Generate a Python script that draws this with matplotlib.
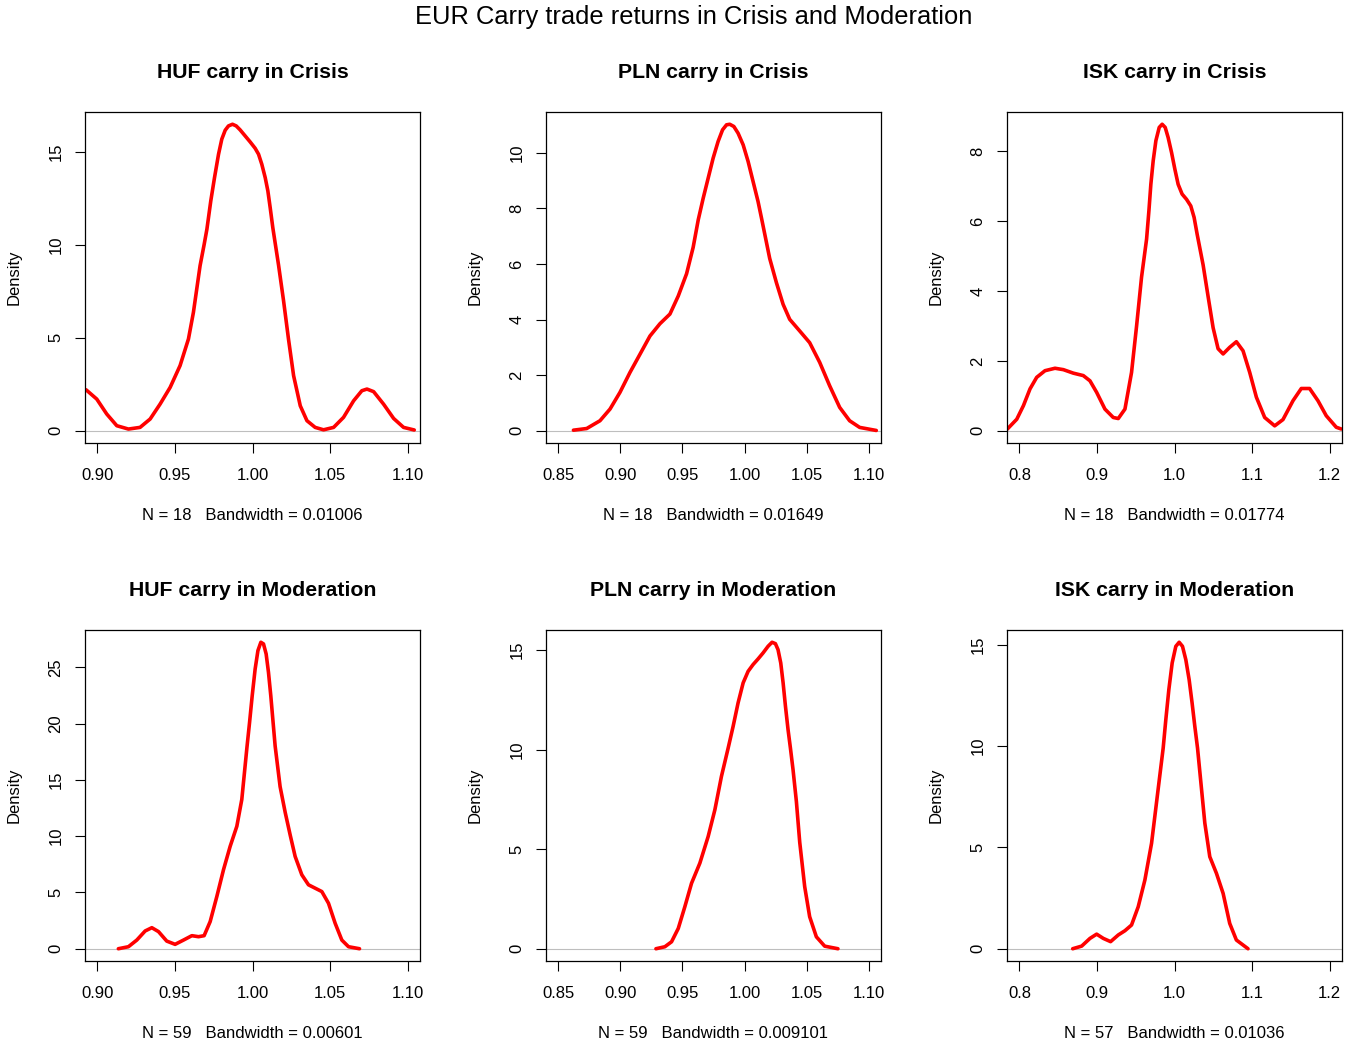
import matplotlib
matplotlib.use("Agg")
import matplotlib.pyplot as plt
from matplotlib.ticker import MultipleLocator, FormatStrFormatter

plt.rcParams['font.family'] = ['Liberation Sans', 'DejaVu Sans']

# density curves (x = return, y = density)
huf_crisis_x = [0.8927, 0.8996, 0.9060, 0.9125, 0.9200, 0.9275, 0.9340, 0.9404, 0.9469, 0.9533,
                0.9587, 0.9619, 0.9662, 0.9688, 0.9706, 0.9731, 0.9755, 0.9781, 0.9802, 0.9824,
                0.9845, 0.9871, 0.9895, 0.9920, 0.9953, 0.9985, 1.0017, 1.0039, 1.0060, 1.0082,
                1.0099, 1.0114, 1.0131, 1.0168, 1.0200, 1.0232, 1.0265, 1.0308, 1.0351, 1.0404,
                1.0458, 1.0523, 1.0587, 1.0652, 1.0705, 1.0738, 1.0781, 1.0845, 1.0910, 1.0974,
                1.1043]
huf_crisis_y = [2.2, 1.7, 0.9, 0.27, 0.09, 0.18, 0.63, 1.43, 2.33, 3.5,
                4.93, 6.36, 8.87, 10.0, 10.83, 12.35, 13.60, 14.86, 15.67, 16.15,
                16.38, 16.47, 16.38, 16.17, 15.84, 15.52, 15.18, 14.86, 14.32, 13.60,
                12.89, 11.99, 10.91, 8.9, 7.0, 4.93, 2.96, 1.34, 0.54, 0.18,
                0.05, 0.18, 0.72, 1.61, 2.15, 2.24, 2.1, 1.43, 0.66, 0.18,
                0.04]

pln_crisis_x = [0.8621, 0.8728, 0.8835, 0.8916, 0.8996, 0.9077, 0.9157, 0.9238, 0.9318, 0.9399,
                0.9466, 0.9533, 0.9586, 0.9627, 0.9667, 0.9707, 0.9747, 0.9787, 0.9823, 0.9855,
                0.9881, 0.9914, 0.9948, 0.9989, 1.0029, 1.0069, 1.0109, 1.0137, 1.0203, 1.0257,
                1.0311, 1.0364, 1.0445, 1.0525, 1.0606, 1.0686, 1.0767, 1.0847, 1.0928, 1.1062]
pln_crisis_y = [0.02, 0.08, 0.36, 0.78, 1.38, 2.10, 2.75, 3.41, 3.85, 4.2,
                4.85, 5.65, 6.6, 7.59, 8.37, 9.09, 9.81, 10.41, 10.83, 11.01,
                11.03, 10.95, 10.71, 10.29, 9.69, 8.97, 8.25, 7.65, 6.2, 5.33,
                4.55, 4.01, 3.59, 3.17, 2.46, 1.62, 0.84, 0.36, 0.12, 0.01]

isk_crisis_x = [0.7845, 0.7966, 0.8052, 0.8137, 0.8223, 0.8330, 0.8459, 0.8567, 0.8695, 0.8824,
                0.8910, 0.8996, 0.9103, 0.9210, 0.9275, 0.9361, 0.9446, 0.9511, 0.9575, 0.9640,
                0.9670, 0.9695, 0.9725, 0.9760, 0.9803, 0.9841, 0.9880, 0.9918, 0.9962, 1.0004,
                1.0047, 1.0098, 1.0155, 1.0210, 1.0253, 1.0292, 1.0369, 1.0433, 1.0498, 1.0562,
                1.0627, 1.0712, 1.0798, 1.0884, 1.0970, 1.1056, 1.1163, 1.1292, 1.1399, 1.1528,
                1.1635, 1.1742, 1.1850, 1.1957, 1.2086, 1.2150]
isk_crisis_y = [0.05, 0.33, 0.72, 1.20, 1.53, 1.72, 1.79, 1.75, 1.65, 1.58,
                1.43, 1.10, 0.62, 0.38, 0.35, 0.62, 1.67, 3.0, 4.4, 5.49,
                6.30, 7.06, 7.73, 8.31, 8.69, 8.78, 8.69, 8.40, 7.97, 7.50,
                7.06, 6.78, 6.63, 6.44, 6.11, 5.63, 4.75, 3.85, 2.95, 2.35,
                2.20, 2.39, 2.55, 2.29, 1.67, 0.96, 0.38, 0.14, 0.32, 0.86,
                1.21, 1.21, 0.86, 0.43, 0.10, 0.05]

huf_mod_x = [0.9135, 0.9200, 0.9254, 0.9308, 0.9351, 0.9394, 0.9447, 0.9501, 0.9555, 0.9609,
             0.9652, 0.9688, 0.9727, 0.9770, 0.9813, 0.9856, 0.9899, 0.9931, 0.9964, 0.9981,
             0.9998, 1.0017, 1.0035, 1.0054, 1.0071, 1.0088, 1.0103, 1.0118, 1.0131, 1.0146,
             1.0178, 1.0211, 1.0243, 1.0275, 1.0318, 1.0361, 1.0404, 1.0447, 1.0490, 1.0533,
             1.0576, 1.0619, 1.0690]
huf_mod_y = [0.0, 0.18, 0.77, 1.58, 1.87, 1.52, 0.68, 0.39, 0.77, 1.16,
             1.07, 1.16, 2.41, 4.64, 7.02, 9.10, 10.88, 13.26, 17.87, 20.10,
             22.47, 24.85, 26.49, 27.23, 27.08, 26.19, 24.56, 22.47, 20.39, 18.01,
             14.4, 12.1, 10.1, 8.20, 6.57, 5.68, 5.38, 5.08, 4.04, 2.26,
             0.77, 0.18, 0.0]

pln_mod_x = [0.9286, 0.9358, 0.9412, 0.9466, 0.9519, 0.9573, 0.9640, 0.9707, 0.9761, 0.9814,
             0.9868, 0.9908, 0.9948, 0.9989, 1.0029, 1.0069, 1.0109, 1.0149, 1.0190, 1.0222,
             1.0249, 1.0270, 1.0292, 1.0311, 1.0330, 1.0351, 1.0370, 1.0391, 1.0418, 1.0445,
             1.0485, 1.0525, 1.0579, 1.0646, 1.0753]
pln_mod_y = [0.0, 0.10, 0.35, 1.02, 2.11, 3.29, 4.30, 5.64, 6.98, 8.66,
             10.08, 11.17, 12.35, 13.36, 13.94, 14.28, 14.56, 14.86, 15.20, 15.40,
             15.33, 15.03, 14.36, 13.36, 12.18, 11.00, 10.08, 9.0, 7.4, 5.35,
             3.12, 1.61, 0.60, 0.13, 0.0]

isk_mod_x = [0.8687, 0.8803, 0.8910, 0.8996, 0.9082, 0.9176, 0.9275, 0.9361, 0.9446, 0.9532,
             0.9618, 0.9704, 0.9790, 0.9854, 0.9888, 0.9927, 0.9970, 1.0017, 1.0060, 1.0103,
             1.0146, 1.0189, 1.0227, 1.0262, 1.0297, 1.0391, 1.0455, 1.0541, 1.0627, 1.0712,
             1.0798, 1.0948]
isk_mod_y = [0.0, 0.13, 0.51, 0.72, 0.51, 0.35, 0.68, 0.89, 1.17, 2.07,
             3.39, 5.20, 7.9, 9.90, 11.30, 12.78, 14.10, 14.92, 15.12, 14.92,
             14.26, 13.27, 12.12, 10.97, 9.90, 6.2, 4.54, 3.72, 2.73, 1.25,
             0.43, 0.0]

titles = ["HUF carry in Crisis", "PLN carry in Crisis", "ISK carry in Crisis",
          "HUF carry in Moderation", "PLN carry in Moderation", "ISK carry in Moderation"]
sub_labels = ["N = 18   Bandwidth = 0.01006", "N = 18   Bandwidth = 0.01649",
              "N = 18   Bandwidth = 0.01774", "N = 59   Bandwidth = 0.00601",
              "N = 59   Bandwidth = 0.009101", "N = 57   Bandwidth = 0.01036"]
xranges = [(0.90, 1.10), (0.85, 1.10), (0.8, 1.2), (0.90, 1.10), (0.85, 1.10), (0.8, 1.2)]
xsteps = [0.05, 0.05, 0.1, 0.05, 0.05, 0.1]
xfmts = ['%.2f', '%.2f', '%.1f', '%.2f', '%.2f', '%.1f']
ysteps = [5, 2, 2, 5, 5, 5]

curves = [(huf_crisis_x, huf_crisis_y), (pln_crisis_x, pln_crisis_y), (isk_crisis_x, isk_crisis_y),
          (huf_mod_x, huf_mod_y), (pln_mod_x, pln_mod_y), (isk_mod_x, isk_mod_y)]

W, H = 1349, 1050
fig = plt.figure(figsize=(W / 100, H / 100), dpi=100)
fig.suptitle("EUR Carry trade returns in Crisis and Moderation", fontsize=18.4,
             x=693.5 / W, y=1 - 17 / H, va='center')

# panel boxes in pixels (left, right), (top, bottom)
cols = [(85, 420), (546, 881), (1007, 1342)]
rows = [(112, 443), (630, 961)]

for i, (xs, ys) in enumerate(curves):
    left, right = cols[i % 3]
    top, bottom = rows[i // 3]
    ax = fig.add_axes([left / W, 1 - bottom / H, (right - left) / W, (bottom - top) / H])

    ax.axhline(0, color='#BEBEBE', lw=0.8, zorder=1)
    ax.plot(xs, ys, color='red', lw=2.6, solid_joinstyle='round', solid_capstyle='round', zorder=2)

    lo, hi = xranges[i]
    pad = 0.04 * (hi - lo)
    ax.set_xlim(lo - pad, hi + pad)
    ymax = max(ys)
    ax.set_ylim(-0.04 * ymax, 1.04 * ymax)

    ax.xaxis.set_major_locator(MultipleLocator(xsteps[i]))
    ax.xaxis.set_major_formatter(FormatStrFormatter(xfmts[i]))
    ax.yaxis.set_major_locator(MultipleLocator(ysteps[i]))
    ax.yaxis.set_major_formatter(FormatStrFormatter('%d'))

    ax.tick_params(direction='out', length=7, width=0.8, labelsize=12, pad=11)
    ax.tick_params(axis='y', pad=8.5)
    plt.setp(ax.get_yticklabels(), rotation=90, va='center')
    for s in ax.spines.values():
        s.set_linewidth(0.9)

    ax.set_title(titles[i], fontsize=15.3, fontweight='bold', y=1.104, pad=0)
    ax.set_xlabel(sub_labels[i], fontsize=12)
    ax.xaxis.set_label_coords(0.5, -0.195)
    ax.set_ylabel("Density", fontsize=12)
    ax.yaxis.set_label_coords(-0.19, 0.5)

fig.savefig("out.png", dpi=100)
